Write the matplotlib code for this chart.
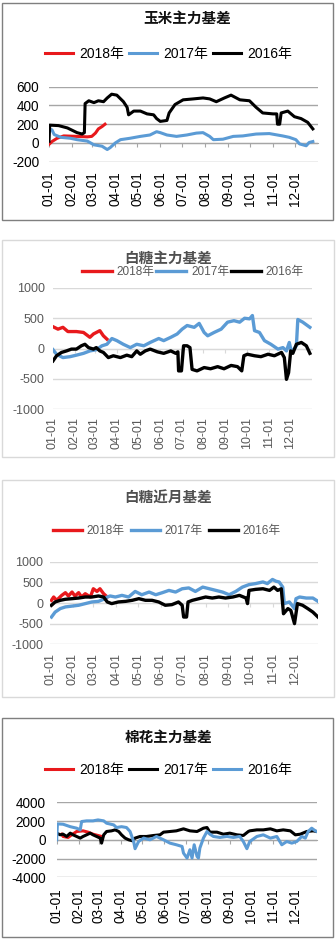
import matplotlib
matplotlib.use("Agg")
import matplotlib.pyplot as plt
from matplotlib.font_manager import FontProperties
from matplotlib.patches import Rectangle

# ---------------- data (day of year, value) ----------------
month_days = [0, 31, 59, 90, 120, 151, 181, 212, 243, 273, 304, 334]
month_labels = ["01-01", "02-01", "03-01", "04-01", "05-01", "06-01",
                "07-01", "08-01", "09-01", "10-01", "11-01", "12-01"]

# Panel 1: 玉米主力基差
corn_2018_day = [0, 4, 11, 20, 38, 52, 58, 63, 67, 72, 76]
corn_2018_val = [-15, 15, 50, 75, 70, 65, 70, 105, 150, 175, 200]
corn_2017_day = [0, 4, 7, 16, 29, 38, 52, 61, 72, 79, 83, 90, 97, 110, 124, 137, 146, 151, 160,
                 173, 187, 200, 209, 218, 223, 236, 250, 263, 281, 299, 317, 326, 335, 340, 349, 353, 358]
corn_2017_val = [150, 140, 90, 60, 50, 35, 20, -20, -35, -70, -50, 0, 35, 50, 70, 85, 120, 110, 85,
                 70, 85, 105, 110, 70, 35, 40, 70, 75, 95, 100, 75, 60, 35, -10, -30, 5, 15]
corn_2016_day = [0, 1, 13, 25, 38, 45, 48, 49, 54, 61, 67, 74, 79, 85, 92, 101, 106, 108, 115, 124,
                 133, 142, 146, 151, 160, 163, 171, 182, 196, 209, 218, 227, 238, 247, 259, 272,
                 281, 290, 304, 309, 310, 313, 315, 324, 333, 342, 351, 358]
corn_2016_val = [18, 190, 185, 160, 110, 95, 110, 420, 450, 430, 450, 440, 480, 520, 510, 440, 380,
                 300, 340, 340, 310, 300, 260, 230, 240, 320, 410, 460, 470, 480, 470, 440, 480, 510,
                 460, 450, 380, 320, 310, 310, 200, 200, 320, 340, 280, 260, 220, 150]

# Panel 2: 白糖主力基差
sugar_2018_day = [0, 7, 14, 21, 33, 43, 52, 57, 66, 71, 76]
sugar_2018_val = [360, 320, 350, 280, 280, 265, 185, 240, 295, 210, 155]
sugar_2017_day = [0, 5, 14, 24, 33, 43, 52, 61, 69, 76, 83, 90, 99, 109, 118, 128, 137, 149, 156,
                  166, 175, 182, 189, 199, 206, 213, 218, 227, 237, 246, 255, 263, 270, 277, 281,
                  284, 291, 298, 307, 317, 324, 329, 333, 336, 343, 345, 352, 362]
sugar_2017_val = [-20, -95, -150, -135, -110, -80, -40, -20, 45, 70, 165, 130, 70, 15, 70, 45, 100,
                  165, 130, 185, 240, 320, 380, 350, 415, 265, 210, 265, 320, 435, 460, 435, 500,
                  490, 545, 295, 265, 130, 70, -10, 15, -40, 100, -65, 45, 480, 435, 350]
sugar_2016_day = [0, 5, 12, 19, 26, 33, 40, 45, 50, 57, 61, 66, 71, 78, 85, 95, 104, 111, 118, 123,
                  130, 137, 147, 156, 166, 173, 176, 177, 181, 184, 189, 193, 196, 203, 213, 222,
                  232, 241, 251, 260, 266, 269, 274, 284, 293, 303, 312, 322, 326, 329, 332, 335,
                  338, 343, 350, 357, 362]
sugar_2016_val = [-205, -120, -65, -40, -10, -10, 45, 70, 15, -10, 15, -40, -65, -150, -120, -150,
                  -110, -135, -40, -95, -40, -10, -55, -80, -40, -80, -55, -370, -370, 45, 45, 15,
                  -345, -370, -315, -335, -300, -335, -280, -300, -370, -120, -95, -120, -135, -95,
                  -120, -65, -150, -510, -400, -40, -80, 70, 100, 45, -80]

# Panel 3: 白糖近月基差
near_2018_day = [2, 5, 9, 16, 21, 25, 30, 34, 39, 43, 48, 55, 59, 64, 68, 73, 78]
near_2018_val = [65, 145, 65, 185, 250, 170, 265, 170, 250, 145, 225, 145, 345, 280, 345, 225, 145]
near_2017_day = [2, 7, 14, 21, 30, 39, 48, 57, 66, 73, 78, 82, 89, 98, 107, 116, 125, 135, 144, 153,
                 162, 171, 180, 189, 198, 208, 217, 226, 235, 244, 253, 262, 271, 280, 290, 296,
                 303, 308, 312, 317, 319, 326, 333, 335, 340, 349, 358, 365]
near_2017_val = [-340, -220, -135, -95, -75, -55, -15, 25, 40, 90, 145, 170, 145, 185, 145, 280,
                 200, 265, 200, 250, 305, 265, 345, 365, 280, 385, 345, 305, 265, 200, 280, 385,
                 445, 470, 510, 470, 570, 525, 510, 385, -15, 25, -135, 105, 145, 120, 120, 40]
near_2016_day = [2, 7, 14, 21, 30, 39, 48, 57, 66, 73, 78, 84, 93, 103, 112, 121, 130, 139, 148,
                 157, 166, 175, 180, 182, 186, 188, 194, 203, 212, 221, 230, 239, 249, 258, 267,
                 269, 271, 280, 290, 299, 305, 310, 315, 318, 324, 328, 333, 337, 344, 351, 358, 365]
near_2016_val = [-55, 25, 65, 90, 105, 120, 145, 145, 170, 145, 25, -15, 25, 40, 65, 105, 65, 65,
                 25, -55, -40, 25, -55, -340, -340, 25, 65, 105, 145, 120, 145, 120, 145, 185, 120,
                 -15, 305, 330, 345, 305, 385, 305, 345, -260, -135, -180, -500, -15, -55, -135,
                 -220, -340]

# Panel 4: 棉花主力基差
cot_2018_day = [7, 9, 16, 21, 28, 37, 44, 51, 58, 63]
cot_2018_val = [600, 355, 250, 530, 885, 955, 815, 600, 460, 355]
cot_2017_day = [0, 5, 9, 14, 19, 23, 28, 33, 37, 42, 47, 51, 56, 61, 63, 66, 70, 77, 82, 87, 91,
                96, 101, 106, 110, 117, 126, 136, 145, 150, 159, 168, 178, 187, 197, 206, 211,
                215, 225, 234, 243, 253, 262, 269, 271, 281, 290, 300, 309, 318, 328, 335, 342,
                351, 360, 365]
cot_2017_val = [710, 530, 600, 355, 710, 530, 355, 180, 355, 530, 710, 530, 355, 180, -355, 530,
                885, 955, 1060, 885, 530, 180, 0, -100, 180, 355, 355, 460, 530, 815, 885, 955,
                1170, 955, 885, 1240, 1310, 815, 815, 600, 710, 530, 460, 885, 955, 1060, 1060,
                1170, 955, 1060, 955, 530, 600, 885, 955, 885]
cot_2016_day = [0, 1, 9, 19, 28, 33, 35, 42, 51, 58, 66, 70, 80, 84, 91, 98, 103, 108, 110, 115,
                122, 131, 140, 150, 159, 168, 176, 178, 183, 187, 190, 193, 197, 199, 201, 206,
                211, 215, 220, 229, 239, 248, 257, 262, 267, 271, 281, 290, 300, 309, 316, 323,
                330, 337, 344, 349, 353, 358, 363, 365]
cot_2016_val = [0, 1700, 1660, 1400, 1240, 1060, 1950, 2020, 2020, 2120, 2020, 1770, 1590, 1310,
                1400, 1310, 885, -180, -950, -180, 180, 0, 355, 0, -355, -530, -710, -1420, -1950,
                -1060, -1950, -530, -1770, -1950, -885, 180, 885, 600, 355, 250, 355, 250, 355,
                -180, -950, -180, 355, 530, 180, 355, -530, -180, -355, -180, 355, 180, 885, 1240,
                955, 885]

RED = "#e8191c"
BLUE = "#5b9bd5"
BLACK = "#000000"

W, H = 336, 939
fig = plt.figure(figsize=(W / 100, H / 100), dpi=100)
fig.patch.set_facecolor("white")

CJK = ["Noto Sans CJK SC", "DejaVu Sans"]
NUM = ["Liberation Sans", "Noto Sans CJK SC", "DejaVu Sans"]


def fx(px):
    return px / W


def fy(py):
    return 1 - py / H


def panel(box, box_color, axes_px, ylim, yticks, series, title, title_xy, title_color, title_weight,
          leg_xy, leg_size, leg_hl, leg_tp, leg_cs, leg_color, tick_size, ytick_pad, xtick_pad,
          tick_color, grid_color, lw):
    x0, y0, x1, y1 = box
    fig.patches.append(Rectangle((fx(x0), fy(y1)), fx(x1) - fx(x0), fy(y0) - fy(y1),
                                 transform=fig.transFigure, fill=False,
                                 edgecolor=box_color, linewidth=1.0))
    l, t, r, b = axes_px
    ax = fig.add_axes([fx(l), fy(b), fx(r) - fx(l), fy(t) - fy(b)])
    ax.set_facecolor("none")
    handles = []
    for i, (d, v, c, lab) in enumerate(series):
        h, = ax.plot(d, v, color=c, lw=lw, label=lab, zorder=3 + i, solid_joinstyle="round")
        handles.append(h)
    ax.set_xlim(0, 365)
    ax.set_ylim(*ylim)
    ax.set_yticks(yticks)
    ax.set_yticklabels([str(v) for v in yticks], fontfamily=NUM, fontsize=tick_size, color=tick_color)
    ax.tick_params(axis="y", length=0, pad=ytick_pad)
    ax.grid(axis="y", color=grid_color, lw=1.0)
    ax.set_axisbelow(True)
    for s in ["top", "left", "right"]:
        ax.spines[s].set_visible(False)
    ax.spines["bottom"].set_position(("data", 0))
    ax.spines["bottom"].set_color(grid_color)
    ax.set_xticks(month_days)
    ax.tick_params(axis="x", labelbottom=False, length=3, direction="out", color=grid_color)
    sec = ax.secondary_xaxis("bottom")
    sec.set_xticks(month_days)
    sec.set_xticklabels(month_labels, rotation=90, fontfamily=NUM, fontsize=tick_size,
                        color=tick_color, va="top", ha="center")
    sec.tick_params(length=0, pad=xtick_pad)
    sec.spines["bottom"].set_visible(False)

    fig.text(fx(title_xy[0]), fy(title_xy[1]), title, ha="center", va="center",
             fontfamily=CJK, fontsize=10.5, color=title_color, fontweight=title_weight)
    prop = FontProperties(family=NUM, size=leg_size)
    fig.legend(handles=handles, loc="center left", bbox_to_anchor=(fx(leg_xy[0]), fy(leg_xy[1])),
               ncol=3, frameon=False, prop=prop, handlelength=leg_hl, handletextpad=leg_tp,
               columnspacing=leg_cs, borderpad=0, borderaxespad=0, labelcolor=leg_color)
    return ax


panel(box=(2, 3, 333, 220), box_color="#7f7f7f", axes_px=(49, 86.7, 318, 161.7),
      ylim=(-200, 600), yticks=[-200, 0, 200, 400, 600],
      series=[(corn_2018_day, corn_2018_val, RED, "2018年"),
              (corn_2017_day, corn_2017_val, BLUE, "2017年"),
              (corn_2016_day, corn_2016_val, BLACK, "2016年")],
      title="玉米主力基差", title_xy=(187, 18), title_color="#111111", title_weight="bold",
      leg_xy=(45, 54), leg_size=10, leg_hl=2.0, leg_tp=0.43, leg_cs=0.4, leg_color="#000000",
      tick_size=9.8, ytick_pad=7, xtick_pad=7, tick_color="#000000", grid_color="#a6a6a6", lw=2.2)

panel(box=(2, 240, 334, 457), box_color="#d9d9d9", axes_px=(53, 288, 312, 409),
      ylim=(-1000, 1000), yticks=[-1000, -500, 0, 500, 1000],
      series=[(sugar_2018_day, sugar_2018_val, RED, "2018年"),
              (sugar_2017_day, sugar_2017_val, BLUE, "2017年"),
              (sugar_2016_day, sugar_2016_val, BLACK, "2016年")],
      title="白糖主力基差", title_xy=(168, 258), title_color="#505050", title_weight="bold",
      leg_xy=(82, 272), leg_size=8.5, leg_hl=2.5, leg_tp=0.42, leg_cs=0.17, leg_color="#595959",
      tick_size=9, ytick_pad=6, xtick_pad=6, tick_color="#595959", grid_color="#d9d9d9", lw=2.4)

panel(box=(2, 480, 334, 697), box_color="#d9d9d9", axes_px=(50, 561.7, 318, 644.3),
      ylim=(-1000, 1000), yticks=[-1000, -500, 0, 500, 1000],
      series=[(near_2018_day, near_2018_val, RED, "2018年"),
              (near_2017_day, near_2017_val, BLUE, "2017年"),
              (near_2016_day, near_2016_val, BLACK, "2016年")],
      title="白糖近月基差", title_xy=(168, 498), title_color="#505050", title_weight="bold",
      leg_xy=(53, 531), leg_size=8.5, leg_hl=2.45, leg_tp=0.42, leg_cs=0.5, leg_color="#595959",
      tick_size=9, ytick_pad=5, xtick_pad=6, tick_color="#595959", grid_color="#d9d9d9", lw=2.4)

panel(box=(2, 718, 333, 937), box_color="#7f7f7f", axes_px=(56.7, 802.3, 316.7, 877.3),
      ylim=(-4000, 4000), yticks=[-4000, -2000, 0, 2000, 4000],
      series=[(cot_2018_day, cot_2018_val, RED, "2018年"),
              (cot_2017_day, cot_2017_val, BLACK, "2017年"),
              (cot_2016_day, cot_2016_val, BLUE, "2016年")],
      title="棉花主力基差", title_xy=(168, 737), title_color="#111111", title_weight="bold",
      leg_xy=(45, 770), leg_size=10, leg_hl=2.0, leg_tp=0.43, leg_cs=0.4, leg_color="#000000",
      tick_size=9.8, ytick_pad=8, xtick_pad=8, tick_color="#000000", grid_color="#a6a6a6", lw=2.2)

fig.savefig("out.png", dpi=100, facecolor="white")
